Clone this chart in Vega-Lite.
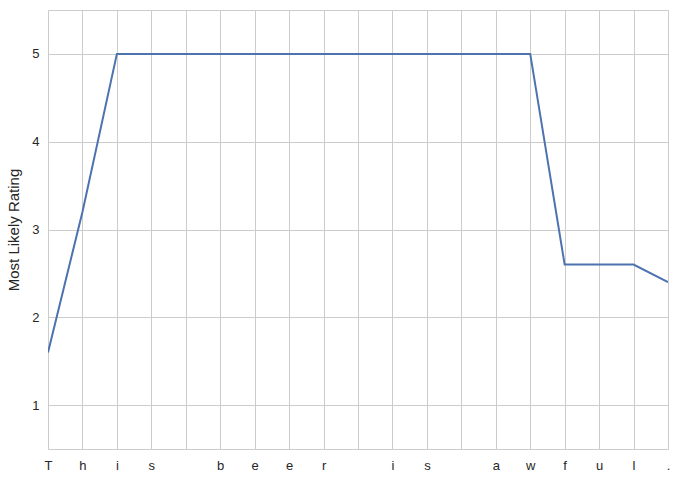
{
  "$schema": "https://vega.github.io/schema/vega-lite/v6.json",
  "width": 620,
  "height": 439,
  "autosize": "none",
  "padding": {"left": 48, "top": 10, "right": 12, "bottom": 34},
  "background": "white",
  "config": {
    "view": {"stroke": "#cccccc", "strokeWidth": 1},
    "font": "Liberation Sans",
    "axis": {
      "domain": false,
      "ticks": false,
      "grid": true,
      "gridColor": "#cccccc",
      "gridWidth": 1,
      "labelFont": "Liberation Sans",
      "labelFontSize": 13,
      "labelColor": "#262626",
      "titleFont": "Liberation Sans",
      "titleFontSize": 15,
      "titleFontWeight": "normal",
      "titleColor": "#262626"
    }
  },
  "data": {
    "values": [
      {"idx": 0, "char": "T", "rating": 1.6},
      {"idx": 1, "char": "h", "rating": 3.2},
      {"idx": 2, "char": "i", "rating": 5.0},
      {"idx": 3, "char": "s", "rating": 5.0},
      {"idx": 4, "char": " ", "rating": 5.0},
      {"idx": 5, "char": "b", "rating": 5.0},
      {"idx": 6, "char": "e", "rating": 5.0},
      {"idx": 7, "char": "e", "rating": 5.0},
      {"idx": 8, "char": "r", "rating": 5.0},
      {"idx": 9, "char": " ", "rating": 5.0},
      {"idx": 10, "char": "i", "rating": 5.0},
      {"idx": 11, "char": "s", "rating": 5.0},
      {"idx": 12, "char": " ", "rating": 5.0},
      {"idx": 13, "char": "a", "rating": 5.0},
      {"idx": 14, "char": "w", "rating": 5.0},
      {"idx": 15, "char": "f", "rating": 2.6},
      {"idx": 16, "char": "u", "rating": 2.6},
      {"idx": 17, "char": "l", "rating": 2.6},
      {"idx": 18, "char": ".", "rating": 2.4}
    ]
  },
  "mark": {"type": "line", "color": "#4c72b0", "strokeWidth": 2, "clip": true},
  "encoding": {
    "x": {
      "field": "idx",
      "type": "quantitative",
      "scale": {"domain": [0, 18], "nice": false, "zero": false},
      "axis": {
        "title": null,
        "values": [0,1,2,3,4,5,6,7,8,9,10,11,12,13,14,15,16,17,18],
        "labelExpr": "['T','h','i','s',' ','b','e','e','r',' ','i','s',' ','a','w','f','u','l','.'][datum.value]",
        "labelPadding": 10,
        "labelFlush": false,
        "labelOverlap": false
      }
    },
    "y": {
      "field": "rating",
      "type": "quantitative",
      "scale": {"domain": [0.5, 5.5], "nice": false, "zero": false},
      "axis": {
        "title": "Most Likely Rating",
        "values": [1, 2, 3, 4, 5],
        "labelPadding": 9,
        "titlePadding": 10
      }
    }
  }
}
